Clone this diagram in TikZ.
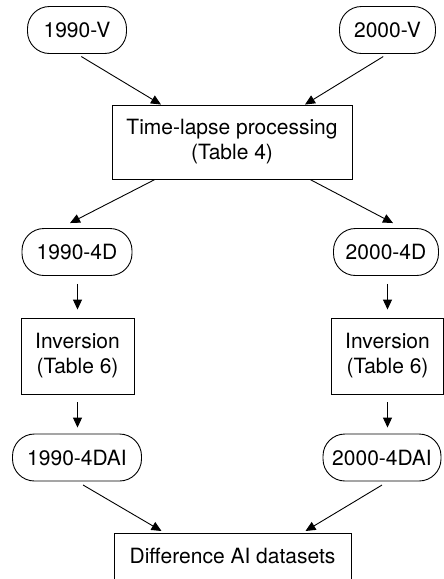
\documentclass[tikz,border=0pt]{standalone}
\usepackage{fontspec}
\setmainfont{TeX Gyre Heros}
\usetikzlibrary{positioning,arrows.meta}

\begin{document}
\begin{tikzpicture}[x=1pt, y=-1pt,
                data/.style={rectangle, draw, rounded corners=22pt, line width=0.9pt, text centered, minimum height=47pt, inner xsep=0pt, font=\fontsize{21}{24}\selectfont},
                proc/.style={rectangle, draw, line width=0.9pt, align=center, inner xsep=0pt, font=\fontsize{21}{25}\selectfont},
                link/.style={-{Triangle[length=10pt,width=9pt]}, line width=0.9pt}
            ]
            \useasboundingbox (0,0) rectangle (444,579);
            \clip (0,0) rectangle (444,579);
            % input volumes
            \node (Data01) [data, minimum width=99pt] at (77,30) {1990-V};
            \node (Data02) [data, minimum width=96pt] at (387.5,30) {2000-V};
            \node (Proc01) [proc, minimum width=240pt, minimum height=74pt] at (232,142) {Time-lapse processing\\(Table 4)};
            % 4D branches
            \node (Data03) [data, minimum width=110pt] at (77,252) {1990-4D};
            \node (Data04) [data, minimum width=105pt] at (386,252) {2000-4D};
            \node (Proc02) [proc, minimum width=113pt, minimum height=76pt] at (77.5,356) {Inversion\\(Table 6)};
            \node (Proc03) [proc, minimum width=112pt, minimum height=76pt] at (387.5,356) {Inversion\\(Table 6)};
            \node (Data05) [data, minimum width=129pt] at (77,457.5) {1990-4DAI};
            \node (Data06) [data, minimum width=118pt] at (382,457.5) {2000-4DAI};
            \node (Proc04) [proc, minimum width=237pt, anchor=north, inner ysep=0pt, text height=30pt, text depth=40pt] at (232.5,533) {Difference AI datasets};

            \draw [link, shorten <=5pt] (Data01.south) -- ([xshift=-71pt]Proc01.north);
            \draw [link, shorten <=5pt] (Data02.south) -- ([xshift=73pt]Proc01.north);
            \draw [link] ([xshift=-77pt]Proc01.south) -- ([xshift=-7pt,yshift=5pt]Data03.north);
            \draw [link] ([xshift=78pt]Proc01.south) -- ([xshift=7pt,yshift=5pt]Data04.north);
            \draw [link, shorten <=8pt, shorten >=8pt] (Proc02.north |- Data03.south) -- (Proc02.north);
            \draw [link, shorten <=8pt, shorten >=8pt] (Proc03.north |- Data04.south) -- (Proc03.north);
            \draw [link, shorten <=8pt, shorten >=6pt] (Proc02.south) -- (Proc02.south |- Data05.north);
            \draw [link, shorten <=8pt, shorten >=6pt] (Proc03.south) -- (Proc03.south |- Data06.north);
            \draw [link, shorten <=7pt] (Data05.south) -- ([xshift=-71pt,yshift=2pt]Proc04.north);
            \draw [link, shorten <=7pt] ([xshift=6pt]Data06.south) -- ([xshift=73pt,yshift=2pt]Proc04.north);
\end{tikzpicture}
\end{document}
